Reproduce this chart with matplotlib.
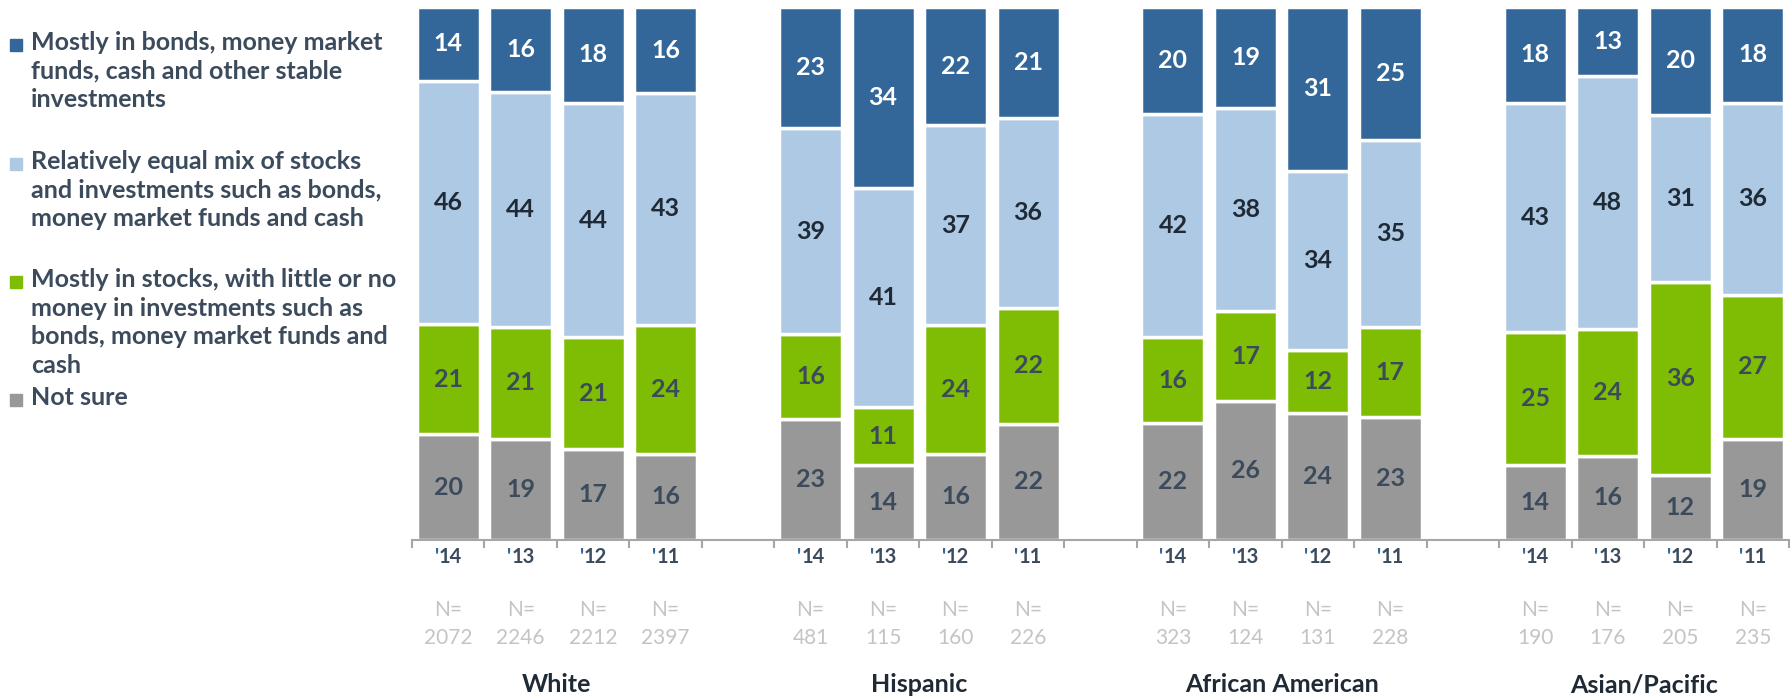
import matplotlib
matplotlib.use('Agg')
import matplotlib.pyplot as plt
import matplotlib.transforms as mtransforms
from matplotlib.patches import Rectangle
import numpy as np

plt.rcParams['font.family'] = ['Lato', 'DejaVu Sans']

groups = ['White', 'Hispanic', 'African American', 'Asian/Pacific']
years = ['14', '13', '12', '11']
n_sizes = [[2072, 2246, 2212, 2397],
           [481, 115, 160, 226],
           [323, 124, 131, 228],
           [190, 176, 205, 235]]

series_names = ['Mostly in bonds, money market\nfunds, cash and other stable\ninvestments',
                'Relatively equal mix of stocks\nand investments such as bonds,\nmoney market funds and cash',
                'Mostly in stocks, with little or no\nmoney in investments such as\nbonds, money market funds and\ncash',
                'Not sure']

# per group, per year ('14, '13, '12, '11)
bonds = [[14, 16, 18, 16], [23, 34, 22, 21], [20, 19, 31, 25], [18, 13, 20, 18]]
mix = [[46, 44, 44, 43], [39, 41, 37, 36], [42, 38, 34, 35], [43, 48, 31, 36]]
stocks = [[21, 21, 21, 24], [16, 11, 24, 22], [16, 17, 12, 17], [25, 24, 36, 27]]
not_sure = [[20, 19, 17, 16], [23, 14, 16, 22], [22, 26, 24, 23], [14, 16, 12, 19]]

colors = ['#336699', '#adc9e3', '#7fbd05', '#989898']
label_colors = ['white', '#1f2a36', '#3c4b5c', '#3c4b5c']
dark = '#3c4b5c'

fig = plt.figure(figsize=(17.92, 6.99), dpi=100)
ax = fig.add_axes([412 / 1792, 159 / 699, 1377 / 1792, 533 / 699])

# stacked from bottom: not sure, stocks, mix, bonds
stack = [not_sure, stocks, mix, bonds]
stack_colors = colors[::-1]
stack_lcolors = label_colors[::-1]

for g in range(len(groups)):
    xs = np.arange(4) + g * 5
    vals = np.array([s[g] for s in stack], dtype=float)
    tot = vals.sum(axis=0)
    bottom = np.zeros(4)
    for k in range(4):
        h = vals[k] / tot * 100
        ax.bar(xs, h, bottom=bottom, width=0.87, color=stack_colors[k],
               edgecolor='white', linewidth=2.5)
        for x, b, hh, v in zip(xs, bottom, h, vals[k]):
            ax.text(x, b + hh / 2, '%d' % v, ha='center', va='center',
                    fontsize=18, fontweight='bold', color=stack_lcolors[k])
        bottom += h

ax.set_xlim(-0.5, 18.5)
ax.set_ylim(0, 100)
for s in ['top', 'right', 'left']:
    ax.spines[s].set_visible(False)
ax.spines['bottom'].set_color('#a6a6a6')
ax.spines['bottom'].set_linewidth(1.5)
ax.set_yticks([])
ax.set_xticks(np.arange(-0.5, 19, 1))
ax.tick_params(axis='x', length=6, width=1.5, color='#a6a6a6', labelbottom=False)

trans = mtransforms.blended_transform_factory(ax.transData, fig.transFigure)
for g in range(len(groups)):
    for i in range(4):
        x = g * 5 + i
        ax.text(x - 0.13, 1 - 557 / 699, "'", transform=trans, ha='right', va='center',
                fontsize=14.5, fontweight='bold', color='#336699')
        ax.text(x - 0.13, 1 - 557 / 699, years[i], transform=trans, ha='left', va='center',
                fontsize=14.5, fontweight='bold', color=dark)
        ax.text(x, 1 - 624 / 699, 'N=\n%d' % n_sizes[g][i], transform=trans,
                ha='center', va='center', fontsize=15, color='#c4c4c4',
                linespacing=1.55)
    ax.text(g * 5 + 1.5, 1 - 685 / 699, groups[g], transform=trans, ha='center',
            va='center', fontsize=18, fontweight='bold', color='#1f2a36')

# legend drawn by hand on the left
legend_y = [45, 164, 282, 400]
for k in range(4):
    y = 1 - legend_y[k] / 699
    fig.patches.append(Rectangle((10 / 1792, y - 6 / 699), 12 / 1792, 12 / 699,
                                 transform=fig.transFigure, color=colors[k]))
    fig.text(31 / 1792, y + 14 / 699, series_names[k], ha='left', va='top',
             fontsize=18, fontweight='bold', color=dark, linespacing=1.3)

fig.savefig('out.png', dpi=100)
